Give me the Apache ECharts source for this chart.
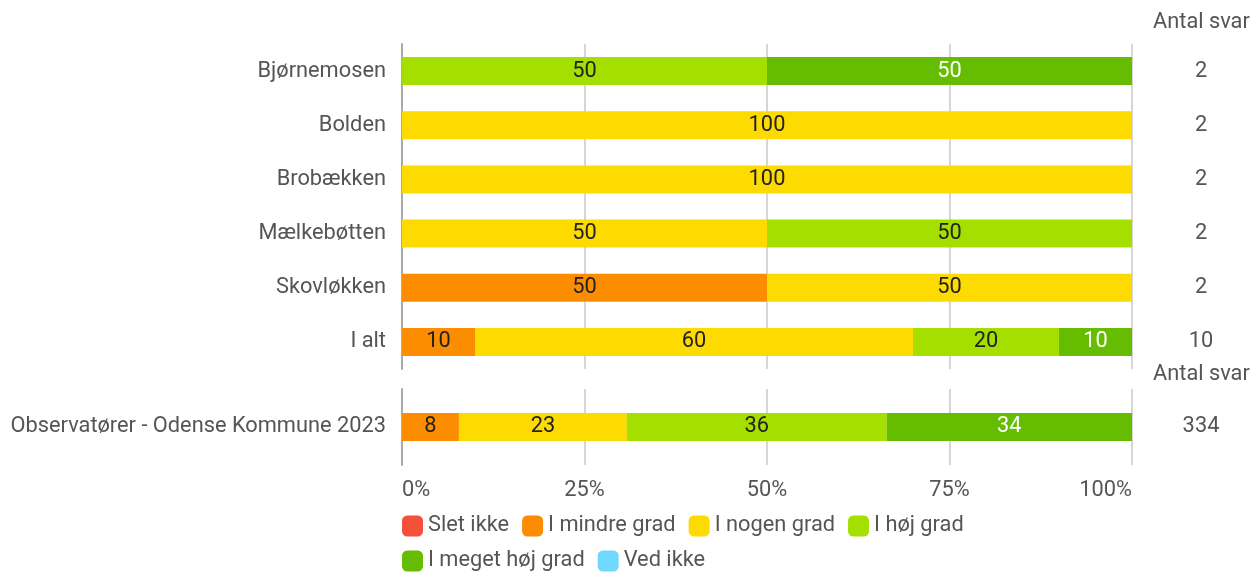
<!DOCTYPE html>
<html>
<head>
<meta charset="utf-8">
<script src="https://cdn.jsdelivr.net/npm/echarts@6/dist/echarts.min.js"></script>
<style>
  html, body { margin: 0; padding: 0; background: #fff; }
  #chart { width: 1253px; height: 573px; }
</style>
</head>
<body>
<div id="chart"></div>
<script>
const categories = ['Bjørnemosen', 'Bolden', 'Brobækken', 'Mælkebøtten', 'Skovløkken', 'I alt']
const counts = [2, 2, 2, 2, 2, 10]
const benchCategories = ['Observatører - Odense Kommune 2023']
const benchCounts = [334]

const levels = ['Slet ikke', 'I mindre grad', 'I nogen grad', 'I høj grad', 'I meget høj grad', 'Ved ikke']
const colors = ['#F4503C', '#FC8D00', '#FDDA00', '#A5DF00', '#66BC00', '#70D8FF']
const labelColors = ['#222', '#222', '#222', '#222', '#fff', '#222']

// percent per level, one array per level (top block)
const sletIkke = [0, 0, 0, 0, 0, 0]
const iMindreGrad = [0, 0, 0, 0, 50, 10]
const iNogenGrad = [0, 100, 100, 50, 50, 60]
const iHoejGrad = [50, 0, 0, 50, 0, 20]
const iMegetHoejGrad = [50, 0, 0, 0, 0, 10]
const vedIkke = [0, 0, 0, 0, 0, 0]

// benchmark row
const benchSletIkke = [0]
const benchMindre = [7.8]
const benchNogen = [23.0]
const benchHoej = [35.6]
const benchMegetHoej = [33.6]
const benchVedIkke = [0]

const xTicks = [0, 25, 50, 75, 100]

const topData = [sletIkke, iMindreGrad, iNogenGrad, iHoejGrad, iMegetHoejGrad, vedIkke]
const benchData = [benchSletIkke, benchMindre, benchNogen, benchHoej, benchMegetHoej, benchVedIkke]

const font = 'Roboto'
const fs = 21.8

const chart = echarts.init(document.getElementById('chart'))

function makeSeries(idx, data, axisIdx) {
  return {
    name: levels[idx],
    type: 'bar',
    stack: 'total' + axisIdx,
    xAxisIndex: axisIdx,
    yAxisIndex: axisIdx * 2,
    barWidth: 28,
    itemStyle: { color: colors[idx] },
    label: {
      show: true,
      position: 'inside',
      color: labelColors[idx],
      fontFamily: font,
      fontSize: fs,
      formatter: p => (p.value ? Math.round(p.value) : '')
    },
    data: data
  }
}

const series = []
topData.forEach((d, i) => series.push(makeSeries(i, d, 0)))
benchData.forEach((d, i) => series.push(makeSeries(i, d, 1)))

function xAxis(gridIndex, showLabel) {
  return {
    type: 'value',
    gridIndex,
    min: xTicks[0],
    max: xTicks[xTicks.length - 1],
    interval: 25,
    axisLine: { show: false },
    axisTick: { show: false },
    splitLine: { lineStyle: { color: '#c8c8c8', width: 1.5 } },
    axisLabel: {
      show: showLabel,
      formatter: '{value}%',
      color: '#555',
      fontFamily: font,
      fontSize: fs,
      margin: 15,
      alignMinLabel: 'left',
      alignMaxLabel: 'right'
    }
  }
}

function leftY(gridIndex, data) {
  return {
    type: 'category',
    gridIndex,
    inverse: true,
    data,
    axisLine: { show: true, lineStyle: { color: '#aaa', width: 2 } },
    axisTick: { show: false },
    axisLabel: { color: '#555', fontFamily: font, fontSize: fs, margin: 16 }
  }
}

function rightY(gridIndex, data) {
  return {
    type: 'category',
    gridIndex,
    inverse: true,
    position: 'right',
    data,
    axisLine: { show: false },
    axisTick: { show: false },
    axisLabel: { color: '#555', fontFamily: font, fontSize: fs, margin: 69, align: 'center' }
  }
}

chart.setOption({
  animation: false,
  textStyle: { fontFamily: font },
  grid: [
    { left: 402, right: 121, top: 44, height: 325 },
    { left: 402, right: 121, top: 389, height: 76 }
  ],
  legend: {
    data: levels,
    left: 397,
    top: 510,
    width: 600,
    icon: 'roundRect',
    itemWidth: 21,
    itemHeight: 21,
    itemGap: 13,
    textStyle: { color: '#555', fontFamily: font, fontSize: fs }
  },
  graphic: [
    { type: 'text', left: 1153, top: 12, style: { text: 'Antal svar', fill: '#555', font: fs + 'px ' + font } },
    { type: 'text', left: 1153, top: 364, style: { text: 'Antal svar', fill: '#555', font: fs + 'px ' + font } }
  ],
  xAxis: [xAxis(0, false), xAxis(1, true)],
  yAxis: [leftY(0, categories), rightY(0, counts), leftY(1, benchCategories), rightY(1, benchCounts)],
  series
})
</script>
</body>
</html>
